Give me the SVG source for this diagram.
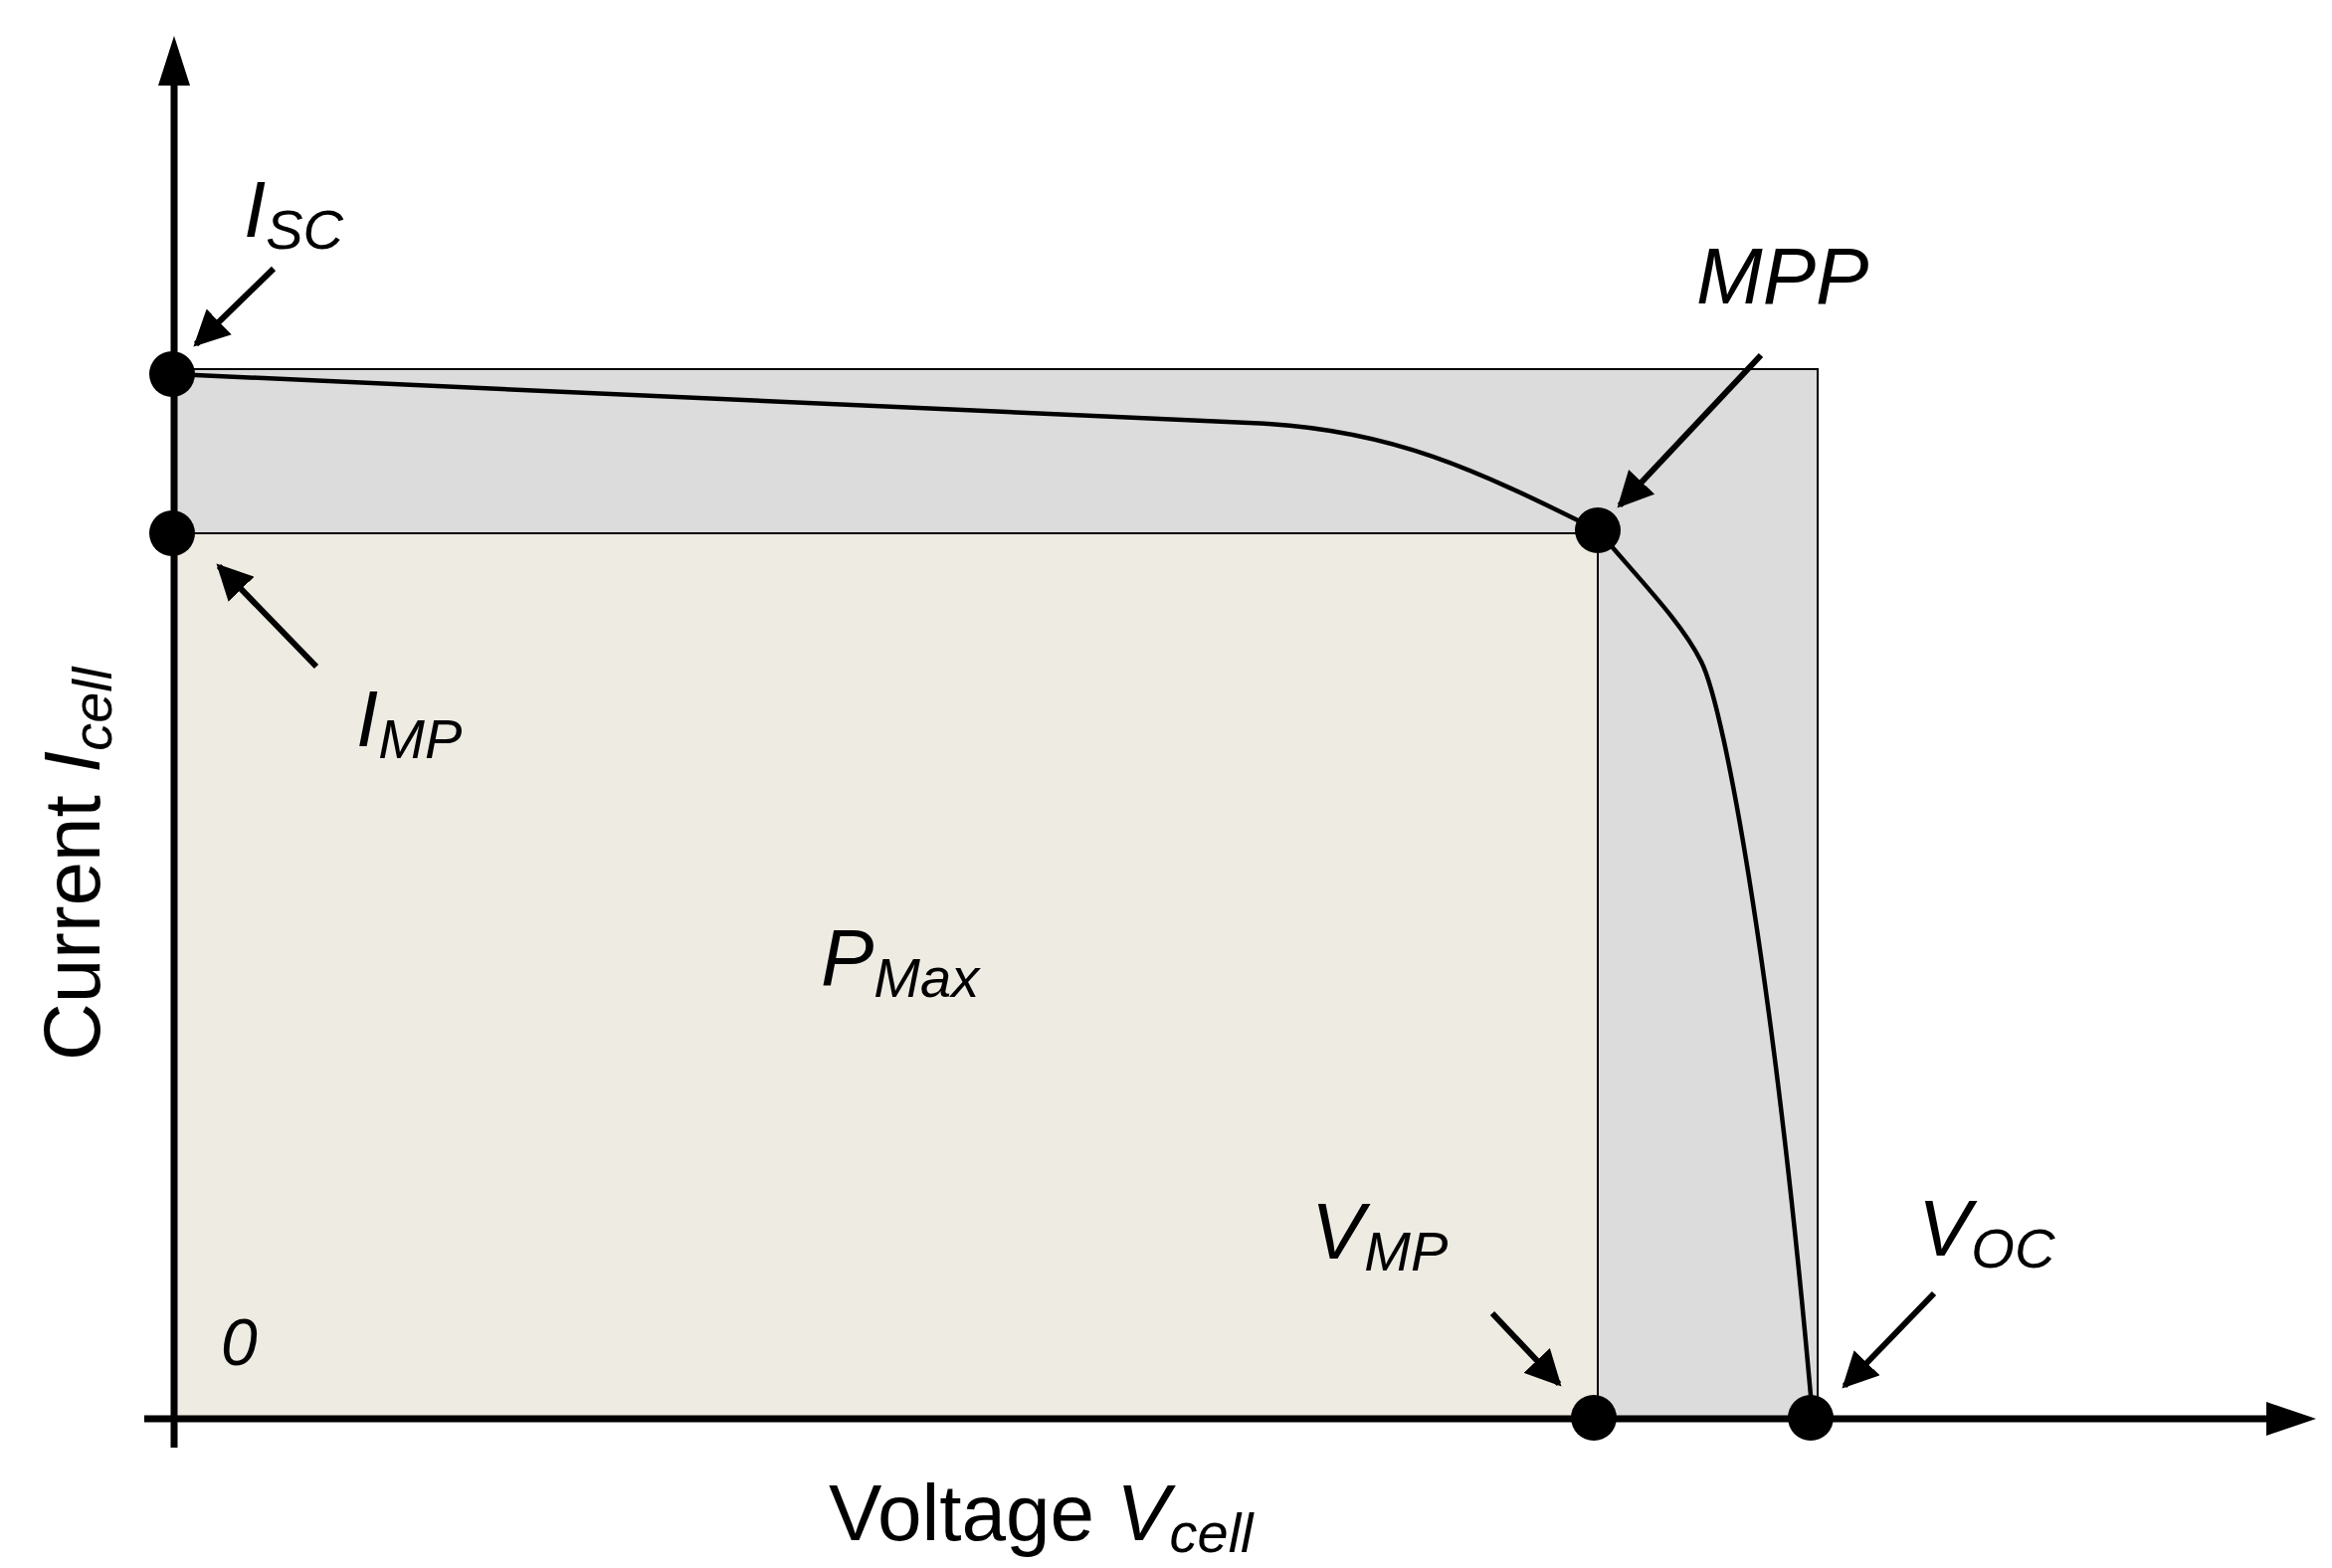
<svg xmlns="http://www.w3.org/2000/svg" width="2344" height="1576" viewBox="0 0 2344 1576">
<style>
.t{font-family:"Liberation Sans",Arial,sans-serif;font-size:80px;fill:#000}
.i{font-style:italic}
.s{font-size:56px;font-style:italic}
.ptr{stroke:#000;stroke-width:6;fill:none;marker-end:url(#ah)}
</style>
<defs>
<marker id="ah" viewBox="0 0 10 10" refX="9" refY="5" markerWidth="6" markerHeight="6" markerUnits="strokeWidth" orient="auto"><path d="M0,0 L10,5 L0,10 z" fill="#000"/></marker>
</defs>
<rect width="2344" height="1576" fill="#fff"/>
<g id="areas">
<rect x="175" y="371" width="1652" height="1055" fill="#dcdcdc" stroke="#000" stroke-width="2"/>
<rect x="175" y="536" width="1431" height="890" fill="#eeebe2" stroke="#000" stroke-width="2"/>
</g>
<g id="curve">
<path d="M175,376 L1275,426 C1400,434 1480,470 1606,533 C1650,585 1690,625 1710,665 C1735,715 1785,1000 1822,1425" fill="none" stroke="#000" stroke-width="4.5"/>
</g>
<g id="axes">
<line x1="175" y1="70" x2="175" y2="1455" stroke="#000" stroke-width="7"/>
<path d="M175,36 L159,86 L191,86 z"/>
<line x1="145" y1="1426" x2="2295" y2="1426" stroke="#000" stroke-width="7"/>
<path d="M2328,1426 L2278,1409 L2278,1443 z"/>
</g>
<g id="connectors">
<line class="ptr" x1="275" y1="270" x2="197" y2="346"/>
<line class="ptr" x1="318" y1="670" x2="220" y2="569"/>
<line class="ptr" x1="1770" y1="357" x2="1628" y2="508"/>
<line class="ptr" x1="1500" y1="1320" x2="1567" y2="1391"/>
<line class="ptr" x1="1944" y1="1300" x2="1854" y2="1393"/>
</g>
<g id="dots" fill="#000">
<circle id="isc" cx="173" cy="376" r="23"/>
<circle id="imp" cx="173" cy="536" r="23"/>
<circle id="mpp" cx="1606" cy="533" r="23"/>
<circle id="vmp" cx="1602" cy="1425" r="23"/>
<circle id="voc" cx="1820" cy="1425" r="23"/>
</g>
<g id="labels">
<text class="t i" x="245" y="238">I<tspan class="s" dy="12">SC</tspan></text>
<text class="t i" x="1705" y="305">MPP</text>
<text class="t i" x="358" y="750">I<tspan class="s" dy="12">MP</tspan></text>
<text class="t i" x="825" y="990">P<tspan class="s" dy="12">Max</tspan></text>
<text class="t i" x="1318" y="1265">V<tspan class="s" dy="12">MP</tspan></text>
<text class="t i" x="1928" y="1262">V<tspan class="s" dy="12">OC</tspan></text>
<text class="t i" x="222" y="1372" style="font-size:66px">0</text>
<text class="t" x="833" y="1548">Voltage <tspan class="i">V</tspan><tspan class="s" dy="12">cell</tspan></text>
<text class="t" transform="translate(100,1066) rotate(-90)">Current <tspan class="i">I</tspan><tspan class="s" dy="12">cell</tspan></text>
</g>
</svg>
